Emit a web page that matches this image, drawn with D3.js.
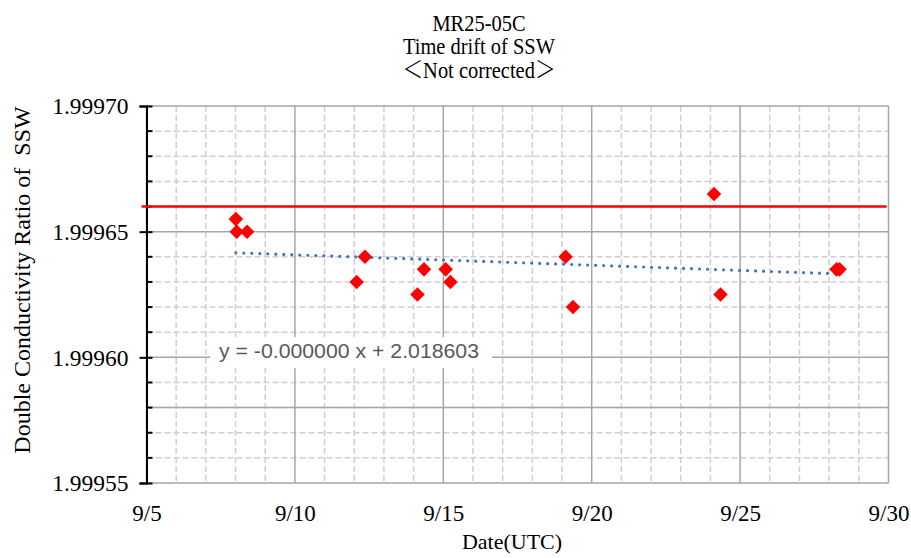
<!DOCTYPE html>
<html>
<head>
<meta charset="utf-8">
<script src="https://cdn.jsdelivr.net/npm/d3@7"></script>
<style>
  body { margin: 0; background: #fff; }
  text { font-family: "Liberation Serif", "Times New Roman", serif; }
</style>
</head>
<body>
<div id="chart"></div>
<script>
// day of September (UTC, fractional) and measured ratio
const days   = [8.01, 8.04, 8.39, 12.08, 12.36, 14.13, 14.35, 15.08, 15.24, 19.12, 19.37, 24.12, 24.34, 28.25, 28.35];
const ratios = [1.999655, 1.99965, 1.99965, 1.99963, 1.99964, 1.999625, 1.999635, 1.999635, 1.99963,
                1.99964, 1.99962, 1.999665, 1.999625, 1.999635, 1.999635];

const xTicks = [5, 10, 15, 20, 25, 30];
const yTicks = [1.99955, 1.99960, 1.99965, 1.99970];
const refHigh = 1.99966;   // red reference line
const refLow = 1.99958;    // grey reference line
const titleLines = ['MR25-05C', 'Time drift of SSW', ['＜', 'Not corrected', '＞']];
const equation = 'y = -0.000000 x + 2.018603';

const dims = { width: 911, height: 558 };
const plot = { left: 146.5, right: 888.5, top: 106, bottom: 483 };

const svg = d3.select('#chart')
    .append('svg')
    .attr('width', dims.width)
    .attr('height', dims.height);

const x = d3.scaleLinear().domain([5, 30]).range([plot.left, plot.right]);
const y = d3.scaleLinear().domain([1.99955, 1.99970]).range([plot.bottom, plot.top]);

// minor grid (dashed)
const minorX = d3.range(6, 30).filter(d => d % 5 !== 0);
const minorY = d3.range(0, 16).map(i => 1.99955 + i * 0.00001).filter((d, i) => i % 5 !== 0);

const grid = svg.append('g');
grid.selectAll('.mx').data(minorX).enter().append('line')
    .attr('x1', d => x(d)).attr('x2', d => x(d))
    .attr('y1', plot.top).attr('y2', plot.bottom)
    .attr('stroke', '#cfcfcf').attr('stroke-width', 1.5).attr('stroke-dasharray', '6,3');
grid.selectAll('.my').data(minorY).enter().append('line')
    .attr('x1', plot.left).attr('x2', plot.right)
    .attr('y1', d => y(d)).attr('y2', d => y(d))
    .attr('stroke', '#cfcfcf').attr('stroke-width', 1.5).attr('stroke-dasharray', '6,3');

// major grid
grid.selectAll('.Mx').data(xTicks).enter().append('line')
    .attr('x1', d => x(d)).attr('x2', d => x(d))
    .attr('y1', plot.top).attr('y2', plot.bottom)
    .attr('stroke', '#a6a6a6').attr('stroke-width', 1.5);
grid.selectAll('.My').data(yTicks).enter().append('line')
    .attr('x1', plot.left).attr('x2', plot.right)
    .attr('y1', d => y(d)).attr('y2', d => y(d))
    .attr('stroke', '#a6a6a6').attr('stroke-width', 1.5);

// grey reference line
svg.append('line')
    .attr('x1', plot.left).attr('x2', plot.right)
    .attr('y1', y(refLow)).attr('y2', y(refLow))
    .attr('stroke', '#a6a6a6').attr('stroke-width', 1.5);

// equation label box
const eqBox = svg.append('g');
eqBox.append('rect')
    .attr('x', 210).attr('y', 337).attr('width', 282).attr('height', 31)
    .attr('fill', '#fff');
eqBox.append('text')
    .attr('x', 219).attr('y', 357.5)
    .style('font-family', '"Liberation Sans", Arial, sans-serif')
    .attr('font-size', 20)
    .attr('fill', '#595959')
    .attr('textLength', 260)
    .attr('lengthAdjust', 'spacingAndGlyphs')
    .text(equation);

// y axis
const yAxis = d3.axisLeft(y)
    .tickValues(yTicks)
    .tickFormat(d3.format('.5f'))
    .tickSize(7)
    .tickPadding(12);
const yg = svg.append('g')
    .attr('transform', `translate(${plot.left},0)`)
    .call(yAxis);
yg.select('.domain').attr('stroke', '#000').attr('stroke-width', 2);
yg.selectAll('.tick line').attr('stroke', '#000').attr('stroke-width', 2).attr('x2', 6).attr('x1', -7);
yg.selectAll('.tick text')
    .style('font-family', '"Liberation Serif", "Times New Roman", serif')
    .attr('font-size', 23.5).attr('fill', '#000')
    .attr('x', -18).attr('dy', '0.33em');

// minor ticks on y axis
svg.selectAll('.ytm').data(minorY).enter().append('line')
    .attr('x1', plot.left).attr('x2', plot.left + 6)
    .attr('y1', d => y(d)).attr('y2', d => y(d))
    .attr('stroke', '#000').attr('stroke-width', 2);

// x axis labels
const xAxis = d3.axisBottom(x)
    .tickValues(xTicks)
    .tickFormat(d => '9/' + d)
    .tickSize(0)
    .tickPadding(0);
const xg = svg.append('g')
    .attr('transform', `translate(0,${plot.bottom})`)
    .call(xAxis);
xg.select('.domain').remove();
xg.selectAll('.tick text')
    .style('font-family', '"Liberation Serif", "Times New Roman", serif')
    .attr('font-size', 23).attr('fill', '#000')
    .attr('y', 38).attr('dy', 0);

// red reference line
svg.append('line')
    .attr('x1', plot.left - 5).attr('x2', plot.right - 2)
    .attr('y1', y(refHigh)).attr('y2', y(refHigh))
    .attr('stroke', '#ff0000').attr('stroke-width', 2.5);

// linear trend (least squares)
const mx = d3.mean(days), my = d3.mean(ratios);
const slope = d3.sum(days, (d, i) => (d - mx) * (ratios[i] - my)) / d3.sum(days, d => (d - mx) ** 2);
const icpt = my - slope * mx;
const xExt = d3.extent(days);
svg.append('line')
    .attr('x1', x(xExt[0])).attr('x2', x(xExt[1]))
    .attr('y1', y(icpt + slope * xExt[0])).attr('y2', y(icpt + slope * xExt[1]))
    .attr('stroke', '#4472c4').attr('stroke-width', 3.2)
    .attr('stroke-linecap', 'round').attr('stroke-dasharray', '0,8');

// points
svg.selectAll('.pt').data(days).enter().append('path')
    .attr('d', d3.symbol(d3.symbolDiamond2, 135)())
    .attr('transform', (d, i) => `translate(${x(d)},${y(ratios[i])})`)
    .attr('fill', '#ff0000');

// title (narrow serif look: compress horizontally)
const titleBase = [30.5, 54, 78];
const title = svg.append('g');
titleLines.forEach((line, i) => {
    const t = title.append('text')
        .attr('transform', `translate(479,${titleBase[i]}) scale(0.87,1)`)
        .attr('text-anchor', 'middle')
        .attr('font-size', 23.5);
    if (Array.isArray(line)) {
        line.forEach((part, j) => {
            const s = t.append('tspan').text(part);
            if (j !== 1) s.style('font-family', '"Noto Sans CJK JP", sans-serif').attr('font-weight', 300);
        });
    } else {
        t.text(line);
    }
});

// axis titles
svg.append('text')
    .attr('x', 512).attr('y', 549)
    .attr('text-anchor', 'middle')
    .attr('font-size', 22)
    .text('Date(UTC)');

svg.append('text')
    .attr('transform', 'translate(30,280) rotate(-90)')
    .attr('text-anchor', 'middle')
    .attr('font-size', 24)
    .style('white-space', 'pre')
    .text('Double Conductivity Ratio of  SSW');
</script>
</body>
</html>
